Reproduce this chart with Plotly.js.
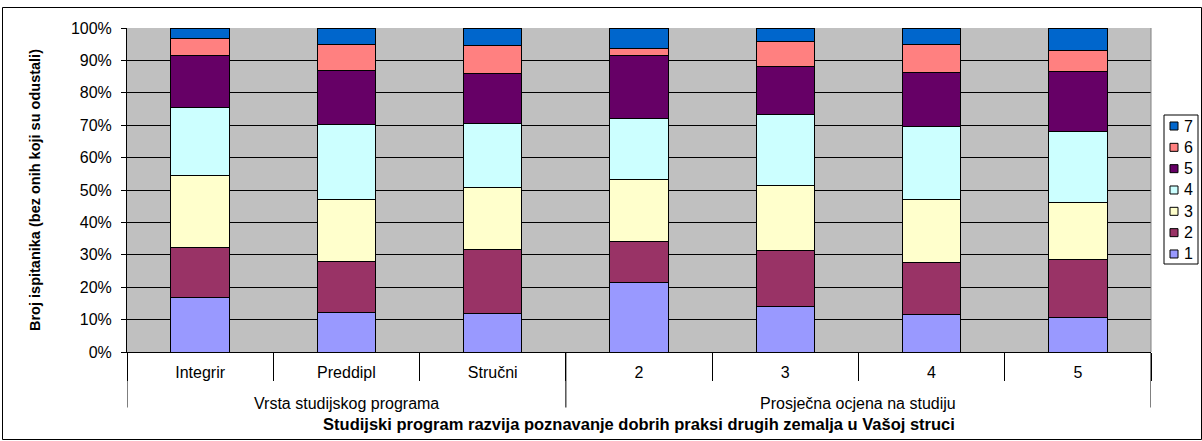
<!DOCTYPE html>
<html>
<head>
<meta charset="utf-8">
<script src="https://cdn.plot.ly/plotly-3.0.1.min.js"></script>
<style>html,body{margin:0;padding:0;background:#fff;}#chart{width:1202px;height:441px;}</style>
</head>
<body>
<div id="chart"></div>
<script>
// ---- data ----
var categories = ['Integrir', 'Preddipl', 'Stručni', '2', '3', '4', '5'];
var groups = ['Vrsta studijskog programa', 'Vrsta studijskog programa', 'Vrsta studijskog programa',
              'Prosječna ocjena na studiju', 'Prosječna ocjena na studiju', 'Prosječna ocjena na studiju', 'Prosječna ocjena na studiju'];
var seriesNames = ['1', '2', '3', '4', '5', '6', '7'];
var s1 = [16.9, 12.1, 11.8, 21.3, 14.1, 11.5, 10.5];
var s2 = [15.5, 15.7, 19.8, 12.8, 17.2, 16.0, 18.0];
var s3 = [22.2, 19.3, 19.3, 19.0, 20.0, 19.6, 17.7];
var s4 = [20.9, 23.1, 19.7, 19.0, 22.0, 22.6, 21.8];
var s5 = [15.9, 16.6, 15.3, 19.4, 14.8, 16.5, 18.7];
var s6 = [5.3, 8.2, 8.8, 2.1, 7.8, 8.8, 6.3];
var s7 = [3.3, 5.0, 5.3, 6.4, 4.1, 5.0, 7.0];
var yTitle = 'Broj ispitanika (bez onih koji su odustali)';
var xTitle = 'Studijski program razvija poznavanje dobrih praksi drugih zemalja u Vašoj struci';

// ---- styles ----
var colors = ['#9999FF', '#993366', '#FFFFCC', '#CCFFFF', '#660066', '#FF8080', '#0066CC'];
var FONT = 'Liberation Sans, Arial, sans-serif';
var W = 1202, H = 441;
var M = {l: 127, r: 51, t: 28, b: 89};
var PW = W - M.l - M.r, PH = H - M.t - M.b;
function px(x) { return (x - M.l) / PW; }
function py(y) { return (H - M.b - y) / PH; }

var allSeries = [s1, s2, s3, s4, s5, s6, s7];
var traces = allSeries.map(function (vals, i) {
  return {
    type: 'bar',
    name: seriesNames[i],
    x: categories,
    y: vals,
    marker: {color: colors[i], line: {color: '#000000', width: 1}},
    hoverinfo: 'skip',
    showlegend: false
  };
});

var shapes = [];
var annotations = [];

// group labels and group dividers (second level of the category axis)
var groupList = [];
groups.forEach(function (g, i) {
  var last = groupList[groupList.length - 1];
  if (!last || last.name !== g) groupList.push({name: g, start: i, end: i});
  else last.end = i;
});
groupList.forEach(function (g, gi) {
  annotations.push({xref: 'x', yref: 'paper', x: (g.start + g.end) / 2, y: py(403), xanchor: 'center', yanchor: 'middle',
    text: g.name, showarrow: false, font: {family: FONT, size: 16, color: '#000'}});
  var bounds = [g.start - 0.5];
  if (gi === groupList.length - 1) bounds.push(g.end + 0.5);
  bounds.forEach(function (b) {
    shapes.push({type: 'line', xref: 'x', yref: 'paper', x0: b, x1: b, y0: 0, y1: py(407.5),
      line: {color: '#000', width: 1}, layer: 'above'});
  });
});

// compact legend (top entry = last series)
var legX0 = 1164, legX1 = 1198, legY0 = 115, legY1 = 264;
shapes.push({type: 'rect', xref: 'paper', yref: 'paper', x0: px(legX0), x1: px(legX1), y0: py(legY0), y1: py(legY1),
  line: {color: '#000', width: 1}, fillcolor: '#fff', layer: 'above'});
var n = seriesNames.length;
for (var k = 0; k < n; k++) {
  var idx = n - 1 - k;
  var cy = 126 + k * 21.33;
  shapes.push({type: 'rect', xref: 'paper', yref: 'paper', x0: px(1170), x1: px(1178), y0: py(cy - 4), y1: py(cy + 4),
    line: {color: '#000', width: 1}, fillcolor: colors[idx], layer: 'above'});
  annotations.push({xref: 'paper', yref: 'paper', x: px(1182), y: py(cy), xanchor: 'left', yanchor: 'middle',
    text: seriesNames[idx], showarrow: false, font: {family: FONT, size: 16, color: '#000'}});
}
// plot-area right border (gray)
shapes.push({type: 'line', xref: 'paper', yref: 'paper', x0: 1, x1: 1, y0: 0, y1: 1, line: {color: '#808080', width: 1}, layer: 'above'});
// outer chart frame
shapes.push({type: 'rect', xref: 'paper', yref: 'paper', x0: px(2.5), x1: px(1201.5), y0: py(439.5), y1: py(7.5),
  line: {color: '#000', width: 1}, fillcolor: 'rgba(0,0,0,0)', layer: 'above'});

var layout = {
  width: W, height: H,
  margin: M,
  paper_bgcolor: '#ffffff',
  plot_bgcolor: '#C0C0C0',
  barmode: 'stack',
  bargap: 0.6,
  showlegend: false,
  font: {family: FONT, size: 16, color: '#000'},
  xaxis: {
    type: 'category',
    range: [-0.5, categories.length - 0.5],
    showline: true, linecolor: '#000', linewidth: 1,
    ticks: 'outside', tickson: 'boundaries', ticklen: 28, tickcolor: '#000', tickwidth: 1,
    ticklabelstandoff: 6,
    showgrid: false,
    tickfont: {family: FONT, size: 16, color: '#000'},
    title: {text: '<b>' + xTitle + '</b>', font: {family: FONT, size: 16.5, color: '#000'}, standoff: 38}
  },
  yaxis: {
    range: [0, 100], dtick: 10, ticksuffix: '%',
    showline: true, linecolor: '#000', linewidth: 1,
    ticks: 'outside', ticklen: 5, tickcolor: '#000',
    ticklabelstandoff: 6,
    showgrid: true, gridcolor: '#000', gridwidth: 1,
    zeroline: false,
    tickfont: {family: FONT, size: 16, color: '#000'},
    title: {text: '<b>' + yTitle + '</b>', font: {family: FONT, size: 14.5, color: '#000'}, standoff: 26}
  },
  shapes: shapes,
  annotations: annotations
};

Plotly.newPlot('chart', traces, layout, {displayModeBar: false, staticPlot: true});
</script>
</body>
</html>
